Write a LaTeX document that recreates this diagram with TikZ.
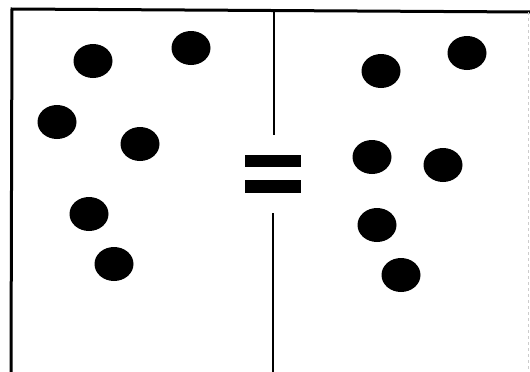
\documentclass[tikz,border=0pt]{standalone}
\usetikzlibrary{shapes.geometric}
\begin{document}
\begin{tikzpicture}[x=1pt,y=-1pt,
  dot/.style={ellipse,fill=black,minimum width=39pt,minimum height=34pt,inner sep=0pt},
  bar/.style={fill=black,draw=none},
  frame/.style={line width=3pt,black}]
\useasboundingbox (0,0) rectangle (530,372);
\fill[white] (0,0) rectangle (530,372);
% frame
\coordinate (tl) at (12,9);
\coordinate (tr) at (530,12);
\coordinate (bl) at (11,372);
\draw[frame] (bl) -- (tl) -- (tr);
\draw[gray!40,line width=0.6pt,dashed] (528,12) -- (528,372);
% divider
\coordinate (dtop) at (274,9);
\coordinate (dmid1) at (274,135);
\coordinate (dmid2) at (273,213);
\coordinate (dbot) at (273,372);
\draw[frame,line width=2.6pt] (dtop) -- (dmid1);
\draw[frame,line width=2.6pt] (dmid2) -- (dbot);
% equals sign
\fill[bar] (245,155) rectangle (301,167);
\fill[bar] (245,180) rectangle (301,193);
% left dots
\node[dot] (l1) at (93,61) {};
\node[dot] (l2) at (191,48) {};
\node[dot] (l3) at (57,122) {};
\node[dot] (l4) at (140,144) {};
\node[dot] (l5) at (89,214) {};
\node[dot] (l6) at (114,264) {};
% right dots
\node[dot] (r1) at (381,71) {};
\node[dot] (r2) at (467,53) {};
\node[dot] (r3) at (372,157) {};
\node[dot] (r4) at (443,165) {};
\node[dot] (r5) at (377,225) {};
\node[dot] (r6) at (401,275) {};
\end{tikzpicture}
\end{document}
